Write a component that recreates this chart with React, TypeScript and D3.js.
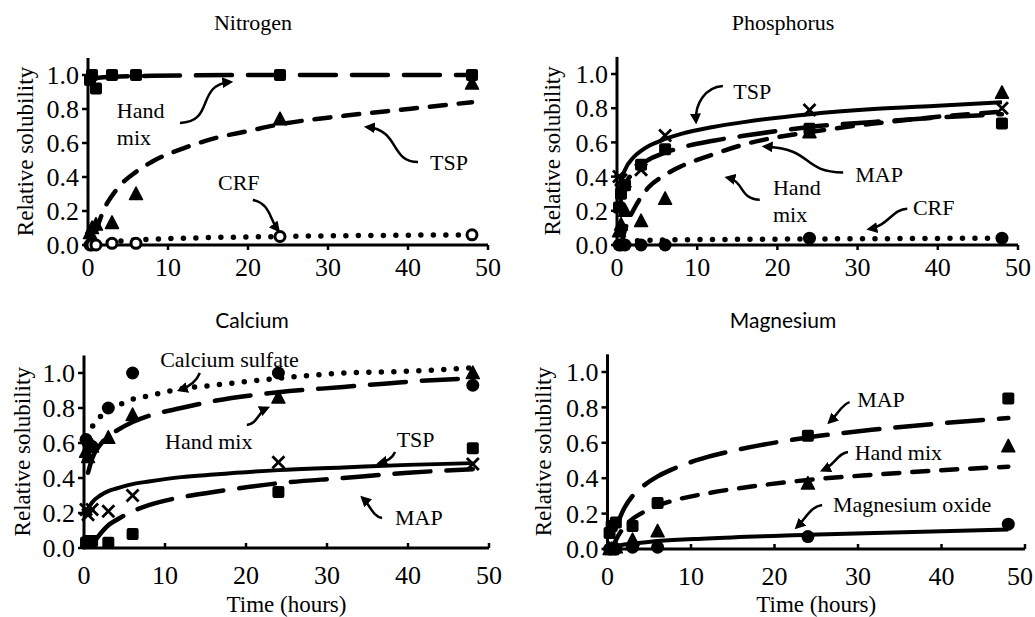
import React from 'react';
import * as d3 from 'd3';

type Pt = [number, number];

// sampling times (hours) shared by all panels
const times = [0.25, 0.5, 1, 3, 6, 24, 48];
const xTicks = [0, 10, 20, 30, 40, 50];
const yTicks = [0, 0.2, 0.4, 0.6, 0.8, 1.0];

// Nitrogen
const nHandMix = [0.97, 1.0, 0.92, 1.0, 1.0, 1.0, 1.0];
const nTsp = [0.07, 0.1, 0.12, 0.13, 0.3, 0.74, 0.95];
const nCrf = [0, 0, 0, 0.01, 0.01, 0.05, 0.06];
const nHandMixFit: Pt[] = [[0.5, 0.98], [3, 0.99], [8, 0.995], [24, 1.0], [48, 1.0]];
const nTspFit: Pt[] = [[1, 0.08], [2, 0.21], [3, 0.29], [4, 0.35], [6, 0.43], [8, 0.49], [12, 0.57], [16, 0.63], [20, 0.67], [24, 0.71], [32, 0.76], [40, 0.8], [48, 0.84]];
const nCrfFit: Pt[] = [[1, 0.015], [3, 0.02], [6, 0.03], [12, 0.04], [24, 0.05], [48, 0.06]];

// Phosphorus
const pTsp = [0.4, 0.38, 0.37, 0.44, 0.64, 0.79, 0.8];
const pMap = [0.22, 0.3, 0.35, 0.47, 0.56, 0.68, 0.71];
const pHandMix = [0.08, 0.12, 0.2, 0.14, 0.27, 0.66, 0.89];
const pCrf = [0, 0, 0, 0, 0, 0.04, 0.04];
const pTspFit: Pt[] = [[0.25, 0.31], [0.5, 0.37], [1, 0.44], [2, 0.51], [3, 0.55], [4, 0.58], [6, 0.62], [8, 0.65], [12, 0.69], [16, 0.72], [24, 0.765], [32, 0.795], [40, 0.815], [48, 0.835]];
const pMapFit: Pt[] = [[0.25, 0.2], [0.5, 0.27], [1, 0.35], [2, 0.42], [3, 0.47], [4, 0.5], [6, 0.54], [8, 0.57], [12, 0.61], [16, 0.64], [24, 0.69], [32, 0.72], [40, 0.745], [48, 0.765]];
const pHandMixFit: Pt[] = [[0.6, 0.02], [1, 0.09], [2, 0.2], [3, 0.28], [4, 0.34], [6, 0.41], [8, 0.46], [12, 0.53], [16, 0.59], [24, 0.66], [32, 0.71], [40, 0.75], [48, 0.78]];
const pCrfFit: Pt[] = [[1, 0.02], [6, 0.03], [24, 0.035], [48, 0.04]];

// Calcium
const caSulfate = [0.62, 0.6, 0.58, 0.8, 1.0, 1.0, 0.93];
const caHandMix = [0.55, 0.52, 0.58, 0.63, 0.76, 0.86, 1.0];
const caTsp = [0.22, 0.19, 0.22, 0.21, 0.3, 0.49, 0.48];
const caMap = [0.03, 0.04, 0.04, 0.03, 0.08, 0.32, 0.57];
const caSulfateFit: Pt[] = [[0.5, 0.63], [1, 0.69], [2, 0.75], [3, 0.79], [4, 0.81], [6, 0.85], [8, 0.87], [12, 0.91], [16, 0.93], [24, 0.97], [32, 1.0], [40, 1.01], [48, 1.03]];
const caHandMixFit: Pt[] = [[0.5, 0.43], [1, 0.51], [2, 0.59], [3, 0.64], [4, 0.67], [6, 0.72], [8, 0.755], [12, 0.8], [16, 0.84], [24, 0.89], [32, 0.92], [40, 0.95], [48, 0.97]];
const caTspFit: Pt[] = [[0.25, 0.18], [0.5, 0.22], [1, 0.26], [2, 0.3], [3, 0.325], [4, 0.34], [6, 0.365], [8, 0.38], [12, 0.405], [16, 0.42], [24, 0.445], [32, 0.46], [40, 0.475], [48, 0.485]];
const caMapFit: Pt[] = [[1.5, 0.05], [2, 0.08], [3, 0.13], [4, 0.16], [6, 0.21], [8, 0.245], [12, 0.29], [16, 0.32], [24, 0.37], [32, 0.4], [40, 0.43], [48, 0.45]];

// Magnesium
const mgMap = [0.09, 0.13, 0.15, 0.13, 0.26, 0.64, 0.85];
const mgHandMix = [0, 0, 0.01, 0.05, 0.1, 0.37, 0.58];
const mgOxide = [0, 0, 0, 0.01, 0.01, 0.07, 0.14];
const mgMapFit: Pt[] = [[1, 0.12], [2, 0.23], [3, 0.3], [4, 0.345], [6, 0.41], [8, 0.455], [12, 0.52], [16, 0.565], [24, 0.63], [32, 0.675], [40, 0.71], [48, 0.74]];
const mgHandMixFit: Pt[] = [[0.7, 0.02], [1, 0.05], [2, 0.125], [3, 0.17], [4, 0.2], [6, 0.245], [8, 0.275], [12, 0.315], [16, 0.345], [24, 0.39], [32, 0.42], [40, 0.445], [48, 0.465]];
const mgOxideFit: Pt[] = [[0.5, 0.005], [1, 0.015], [2, 0.025], [3, 0.03], [6, 0.045], [12, 0.06], [24, 0.08], [48, 0.11]];

type Mark = 'square' | 'triangle' | 'circle' | 'ring' | 'cross';
type Dash = 'solid' | 'long' | 'short' | 'dot';
type Series = { values: number[]; mark: Mark; fit: Pt[]; dash: Dash };
type Note = { lines: string[]; at: Pt; arrow: Pt[] };
type Panel = {
  title: string; sans: boolean; titleX: number; titleY: number;
  left: number; right: number; bottom: number; top1: number;
  tickUp: boolean; labelDy: number; yLabelX: number; xLabel: boolean;
  series: Series[]; notes: Note[];
};

const W = 1035;
const H = 617;
const SERIF = 'Liberation Serif, DejaVu Serif, serif';
const SANS = 'Lato, Open Sans, sans-serif';

const dashes: Record<Dash, { w: number; arr?: string }> = {
  solid: { w: 4 },
  long: { w: 4.5, arr: '36,16' },
  short: { w: 4.5, arr: '16,13' },
  dot: { w: 5.5, arr: '0,12.5' },
};

const panels: Panel[] = [
  {
    title: 'Nitrogen', sans: false, titleX: 253, titleY: 30,
    left: 88, right: 488, bottom: 245, top1: 75, tickUp: false, labelDy: 31, yLabelX: 25, xLabel: false,
    series: [
      { values: nHandMix, mark: 'square', fit: nHandMixFit, dash: 'long' },
      { values: nTsp, mark: 'triangle', fit: nTspFit, dash: 'short' },
      { values: nCrf, mark: 'ring', fit: nCrfFit, dash: 'dot' },
    ],
    notes: [
      { lines: ['Hand', 'mix'], at: [3.6, 0.75], arrow: [[11.5, 0.718], [15.9, 0.724], [13.4, 0.94], [17.75, 0.959]] },
      { lines: ['TSP'], at: [42.75, 0.44], arrow: [[41.25, 0.488], [37.75, 0.488], [39, 0.676], [34.9, 0.694]] },
      { lines: ['CRF'], at: [16.25, 0.324], arrow: [[20.6, 0.265], [22.75, 0.247], [22.75, 0.147], [23.75, 0.088]] },
    ],
  },
  {
    title: 'Phosphorus', sans: false, titleX: 783, titleY: 30,
    left: 617, right: 1018, bottom: 245, top1: 74, tickUp: false, labelDy: 31, yLabelX: 552, xLabel: false,
    series: [
      { values: pCrf, mark: 'circle', fit: pCrfFit, dash: 'dot' },
      { values: pHandMix, mark: 'triangle', fit: pHandMixFit, dash: 'short' },
      { values: pMap, mark: 'square', fit: pMapFit, dash: 'long' },
      { values: pTsp, mark: 'cross', fit: pTspFit, dash: 'solid' },
    ],
    notes: [
      { lines: ['TSP'], at: [14.5, 0.853], arrow: [[13.2, 0.93], [11.0, 0.924], [9.7, 0.824], [9.85, 0.724]] },
      { lines: ['MAP'], at: [29.7, 0.37], arrow: [[28.2, 0.424], [22.8, 0.43], [24.7, 0.56], [18.45, 0.576]] },
      { lines: ['Hand', 'mix'], at: [19.45, 0.294], arrow: [[17.8, 0.265], [15.3, 0.265], [15.9, 0.371], [13.8, 0.394]] },
      { lines: ['CRF'], at: [36.9, 0.176], arrow: [[36.2, 0.212], [34.4, 0.212], [33.8, 0.112], [31.5, 0.094]] },
    ],
  },
  {
    title: 'Calcium', sans: true, titleX: 252, titleY: 328,
    left: 84, right: 489, bottom: 548, top1: 373, tickUp: true, labelDy: 36, yLabelX: 22, xLabel: true,
    series: [
      { values: caSulfate, mark: 'circle', fit: caSulfateFit, dash: 'dot' },
      { values: caHandMix, mark: 'triangle', fit: caHandMixFit, dash: 'long' },
      { values: caMap, mark: 'square', fit: caMapFit, dash: 'long' },
      { values: caTsp, mark: 'cross', fit: caTspFit, dash: 'solid' },
    ],
    notes: [
      { lines: ['Calcium sulfate'], at: [9.4, 1.034], arrow: [[14.3, 1.0], [13.95, 0.96], [13.3, 0.926], [11.85, 0.903]] },
      { lines: ['Hand mix'], at: [10, 0.566], arrow: [[20.1, 0.703], [21.4, 0.709], [21.5, 0.777], [22.6, 0.8]] },
      { lines: ['TSP'], at: [38.6, 0.577], arrow: [[38.4, 0.549], [38.1, 0.514], [37.5, 0.497], [36.5, 0.486]] },
      { lines: ['MAP'], at: [38.4, 0.131], arrow: [[36.8, 0.171], [35.6, 0.183], [35.3, 0.246], [34.4, 0.286]] },
    ],
  },
  {
    title: 'Magnesium', sans: true, titleX: 783, titleY: 328,
    left: 607.5, right: 1025, bottom: 549, top1: 372, tickUp: true, labelDy: 36, yLabelX: 543, xLabel: true,
    series: [
      { values: mgMap, mark: 'square', fit: mgMapFit, dash: 'long' },
      { values: mgHandMix, mark: 'triangle', fit: mgHandMixFit, dash: 'short' },
      { values: mgOxide, mark: 'circle', fit: mgOxideFit, dash: 'solid' },
    ],
    notes: [
      { lines: ['MAP'], at: [29.9, 0.802], arrow: [[29.0, 0.83], [28.1, 0.819], [27.6, 0.763], [26.6, 0.718]] },
      { lines: ['Hand mix'], at: [29.6, 0.503], arrow: [[28.8, 0.548], [27.6, 0.542], [27.2, 0.475], [25.8, 0.446]] },
      { lines: ['Magnesium oxide'], at: [27, 0.209], arrow: [[25.7, 0.249], [24.25, 0.237], [23.8, 0.175], [22.7, 0.124]] },
    ],
  },
];

function Marker({ kind, cx, cy }: { kind: Mark; cx: number; cy: number }) {
  switch (kind) {
    case 'square':
      return <rect x={cx - 6} y={cy - 6} width={12} height={12} rx={2} fill="#000" />;
    case 'triangle':
      return <path d={`M${cx},${cy - 7}L${cx + 6.5},${cy + 5.5}L${cx - 6.5},${cy + 5.5}Z`} fill="#000" stroke="#000" strokeWidth={1.5} strokeLinejoin="round" />;
    case 'circle':
      return <circle cx={cx} cy={cy} r={6.5} fill="#000" />;
    case 'ring':
      return <circle cx={cx} cy={cy} r={5} fill="#fff" stroke="#000" strokeWidth={3} />;
    case 'cross':
      return (
        <g stroke="#000" strokeWidth={2.8}>
          <line x1={cx - 6} y1={cy - 6} x2={cx + 6} y2={cy + 6} />
          <line x1={cx - 6} y1={cy + 6} x2={cx + 6} y2={cy - 6} />
        </g>
      );
  }
}

function PanelView({ p }: { p: Panel }) {
  const x = d3.scaleLinear().domain([0, 50]).range([p.left, p.right]);
  const y = d3.scaleLinear().domain([0, 1]).range([p.bottom, p.top1]);
  const line = d3.line<Pt>().x(d => x(d[0])).y(d => y(d[1])).curve(d3.curveMonotoneX);
  const fmt = d3.format('.1f');
  const titleFont = p.sans ? SANS : SERIF;
  const arrowPath = (a: Pt[]) => {
    const q = a.map(d => `${x(d[0])},${y(d[1])}`);
    return `M${q[0]}C${q[1]} ${q[2]} ${q[3]}`;
  };
  const tickLen = p.tickUp ? -5 : 5;

  return (
    <g>
      <text x={p.titleX} y={p.titleY} textAnchor="middle" style={{ fontFamily: titleFont, fontSize: p.sans ? 21 : 22 }} fill="#000">{p.title}</text>

      {/* curves */}
      {p.series.map((s, i) => {
        const st = dashes[s.dash];
        return (
          <path key={'f' + i} d={line(s.fit) || ''} fill="none" stroke="#000" strokeWidth={st.w}
            strokeDasharray={st.arr} strokeLinecap={s.dash === 'solid' ? 'butt' : 'round'} />
        );
      })}

      {/* axes */}
      <line x1={x(0)} x2={x(50)} y1={y(0)} y2={y(0)} stroke="#000" strokeWidth={3} />
      <line x1={x(0)} x2={x(0)} y1={y(0) + 1.5} y2={y(1.1)} stroke="#000" strokeWidth={3} />
      {xTicks.map(t => (
        <g key={'xt' + t}>
          <line x1={x(t)} x2={x(t)} y1={y(0)} y2={y(0) + tickLen} stroke="#000" strokeWidth={2.5} />
          {/* keep the last label inside the picture */}
          <text x={Math.min(x(t), W - 15)} y={y(0) + p.labelDy} textAnchor="middle" style={{ fontFamily: SERIF, fontSize: 26 }} fill="#000">{t}</text>
        </g>
      ))}
      {yTicks.map(t => (
        <g key={'yt' + t}>
          <line x1={x(0) - 6} x2={x(0)} y1={y(t)} y2={y(t)} stroke="#000" strokeWidth={2.5} />
          <text x={x(0) - 9} y={y(t)} dy="0.35em" textAnchor="end" style={{ fontFamily: SERIF, fontSize: 26 }} fill="#000">{fmt(t)}</text>
        </g>
      ))}
      <text transform={`translate(${p.yLabelX},${(y(0) + y(1.1)) / 2}) rotate(-90)`} dy="0.35em" textAnchor="middle"
        style={{ fontFamily: SERIF, fontSize: 23 }} fill="#000">Relative solubility</text>
      {p.xLabel && (
        <text x={(x(0) + x(50)) / 2} y={612} textAnchor="middle" style={{ fontFamily: SERIF, fontSize: 23 }} fill="#000">Time (hours)</text>
      )}

      {/* markers */}
      {p.series.map((s, i) => (
        <g key={'m' + i}>
          {s.values.map((v, j) => <Marker key={j} kind={s.mark} cx={x(times[j])} cy={y(v)} />)}
        </g>
      ))}

      {/* annotations */}
      {p.notes.map((n, i) => (
        <g key={'n' + i}>
          <text x={x(n.at[0])} y={y(n.at[1])} style={{ fontFamily: SERIF, fontSize: 22 }} fill="#000">
            {n.lines.map((l, k) => <tspan key={k} x={x(n.at[0])} dy={k === 0 ? 0 : 27}>{l}</tspan>)}
          </text>
          <path d={arrowPath(n.arrow)} fill="none" stroke="#000" strokeWidth={2.5} markerEnd="url(#ah)" />
        </g>
      ))}
    </g>
  );
}

export default function App() {
  return (
    <div style={{ position: 'absolute', left: 0, top: 0 }}>
      <svg width={W} height={H} viewBox={`0 0 ${W} ${H}`} style={{ display: 'block', background: '#fff' }}>
        <defs>
          <marker id="ah" viewBox="0 0 10 10" refX={7} refY={5} markerWidth={11} markerHeight={11}
            markerUnits="userSpaceOnUse" orient="auto">
            <path d="M0,0L10,5L0,10Z" fill="#000" />
          </marker>
        </defs>
        <rect width={W} height={H} fill="#fff" />
        {panels.map(p => <PanelView key={p.title} p={p} />)}
      </svg>
    </div>
  );
}
